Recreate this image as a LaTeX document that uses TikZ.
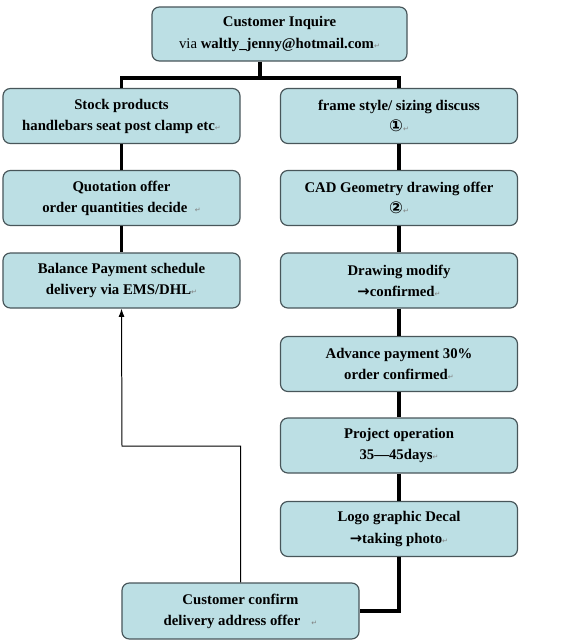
\documentclass[tikz,border=0pt]{standalone}
\usepackage{fontspec}
\usepackage{xcolor}
\usepackage{tikz}
\usetikzlibrary{arrows.meta}
\setmainfont{Liberation Serif}
\newfontfamily\symfont{DejaVu Sans}
\definecolor{boxfill}{RGB}{188,223,228}
\definecolor{boxline}{RGB}{72,86,90}
\newcommand{\retmark}{{\symfont\mdseries\fontsize{6}{6}\selectfont\color{gray}↵}}
\newcommand{\circnum}[1]{{\symfont\bfseries\fontsize{14}{14}\selectfont #1}}
\newcommand{\toarrow}{{\symfont\bfseries →}}
\begin{document}
\begin{tikzpicture}[x=0.03cm,y=-0.03cm,
	stepbox/.style={draw=boxline,fill=boxfill,line width=1pt,rounded corners=0.22cm,
		minimum width=7.11cm,minimum height=1.65cm,align=center,inner sep=2pt,
		font=\fontsize{12.6}{18}\selectfont\bfseries},
	flow/.style={line width=2.6pt},
	back/.style={line width=0.85pt,-{Latex[length=7pt,width=5pt]}}]
					\useasboundingbox (0,0) rectangle (561,643);
					\node[stepbox,minimum width=7.65cm,minimum height=1.62cm] (inq) at (279.5,34){Customer Inquire\\{\mdseries via} waltly\_jenny@hotmail.com\retmark};
					% left column
					\node[stepbox] (stock) at (121.5,116){Stock products\\handlebars seat post clamp etc\retmark};
					\node[stepbox] (quote) at (121.5,198){Quotation offer\\order quantities decide \ \retmark};
					\node[stepbox] (bal) at (121.5,280.5){Balance Payment schedule\\delivery via EMS/DHL\retmark};
					% right column
					\node[stepbox] (frame) at (399,116){frame style/ sizing\ discuss\\\circnum{①}\retmark};
					\node[stepbox] (cad) at (399,198){CAD Geometry drawing offer\\\circnum{②}\retmark};
					\node[stepbox] (drawmod) at (399,280.5){Drawing modify\\\toarrow confirmed\retmark};
					\node[stepbox] (adv) at (399,364){Advance payment 30\%\\order confirmed\retmark};
					\node[stepbox] (proj) at (399,445.5){Project operation\\35—45days\retmark};
					\node[stepbox] (logo) at (399,529){Logo graphic Decal\\\toarrow taking photo\retmark};
					\node[stepbox,minimum height=1.68cm] (confirm) at (240.5,611){Customer confirm\\delivery address offer \ \ \retmark};
					% connectors
					\coordinate (split) at (260,78);
					\coordinate (turn) at (122,446);
					\draw[flow] (split |- inq.south)--(split);
					\draw[flow] (stock.north) |- (split) -| (frame.north);
					\draw[flow] (stock)--(quote);
					\draw[flow] (quote)--(bal);
					\draw[flow] (frame)--(cad);
					\draw[flow] (cad)--(drawmod);
					\draw[flow] (drawmod)--(adv);
					\draw[flow] (adv)--(proj);
					\draw[flow] (proj)--(logo);
					\draw[flow] (logo.south) |- (confirm.east);
					\draw[back] (confirm.north) |- (turn)--(bal.south);
				\end{tikzpicture}
\end{document}
